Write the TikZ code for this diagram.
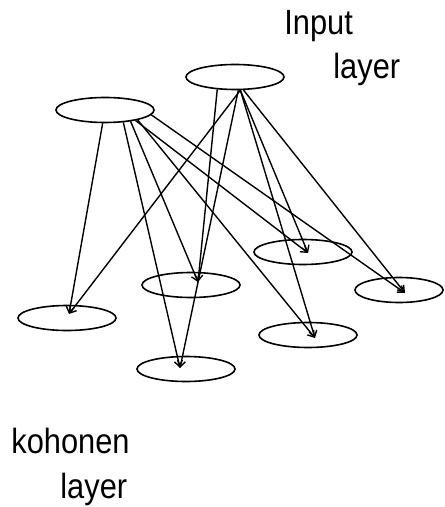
\documentclass[tikz,border=0pt]{standalone}
\usepackage{fontspec}
\newfontfamily\layerfont[FakeStretch=0.88]{Liberation Sans}
\usetikzlibrary{shapes.geometric,arrows.meta}
\tikzset{
  unit/.style={ellipse, draw, line width=0.8pt, minimum width=49pt, minimum height=12.5pt, inner sep=0pt},
  link/.style={line width=0.7pt, -{Straight Barb[length=3pt,width=4pt]}},
  caption/.style={anchor=base west, inner sep=0pt, font=\layerfont\fontsize{17.5}{21}\selectfont}
}
\begin{document}
\begin{tikzpicture}[x=0.5pt,y=-0.5pt]
\useasboundingbox (0,0) rectangle (444,507);
% input layer
\node[unit] (a) at (235,77) {};
\node[unit] (b) at (105,110) {};
\node[caption] (in1) at (284,35) {Input};
\node[caption] (in2) at (333,79) {layer};

% kohonen layer
\node[unit] (k1) at (67,318) {};
\node[unit] (k2) at (191,285) {};
\node[unit] (k3) at (186,369) {};
\node[unit] (k4) at (303,252) {};
\node[unit, minimum width=44pt] (k5) at (399,290) {};
\node[unit] (k6) at (308,335) {};
\node[caption] (ko1) at (11,453) {kohonen};
\node[caption] (ko2) at (60,498) {layer};

\coordinate (k1 in) at (69,314);
\coordinate (k2 in) at (198,282);
\coordinate (k3 in) at (180,368);
\coordinate (k4 in) at (308,253);
\coordinate (k5 in) at (405,293);
\coordinate (k6 in) at (315,338);

\draw[link] (a.-68) -- (k1 in);
\draw[link] (a.-145) -- (k2 in);
\draw[link] (a.-76) -- (k3 in);
\draw[link] (a.-68) -- (k4 in);
\draw[link] (a.-57) -- (k5 in);
\draw[link] (a.-68) -- (k6 in);

\draw[link] (b.-100) -- (k1 in);
\draw[link] (b.-24) -- (k2 in);
\draw[link] (b.-34) -- (k3 in);
\draw[link] (b.-19) -- (k4 in);
\draw[link] (b.-6) -- (k5 in);
\draw[link] (b.-17) -- (k6 in);
\end{tikzpicture}
\end{document}
